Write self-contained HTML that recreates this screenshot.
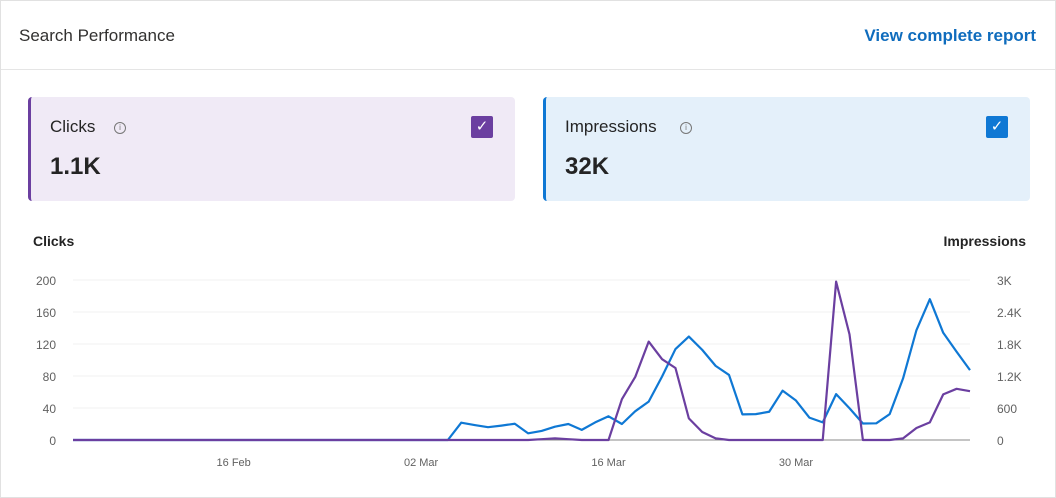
<!DOCTYPE html>
<html><head><meta charset="utf-8"><style>
body{margin:0;width:1056px;height:498px;background:#fff;font-family:"Liberation Sans",sans-serif;overflow:hidden;position:relative}
.frame{position:absolute;left:0;top:0;width:1054px;height:496px;border:1px solid #e1e1e1}
.hdr{position:absolute;left:19px;top:26px;font-size:17px;color:#323130}
.link{position:absolute;right:20px;top:26px;font-size:17px;font-weight:bold;color:#0f6cbd}
.div{position:absolute;left:1px;right:1px;top:69px;border-top:1px solid #e5e5e5}
.card{position:absolute;top:97px;height:104px;width:484px;border-radius:4px}
.card .t{position:absolute;left:19px;top:20px;font-size:17px;color:#242424}
.card .i{position:absolute;top:25px;width:10px;height:10px;border:1px solid #777;border-radius:50%;font-size:8px;line-height:10px;text-align:center;color:#777}
.card .v{position:absolute;left:19px;top:56px;font-size:24px;font-weight:bold;color:#242424}
.card .cb{position:absolute;right:22px;top:19px;width:22px;height:22px;border-radius:2px;color:#fff;font-size:15px;line-height:22px;text-align:center}
</style></head><body>
<div class="frame"></div>
<div class="hdr">Search Performance</div>
<div class="link">View complete report</div>
<div class="div"></div>
<div class="card" style="left:28px;background:#f0eaf6;border-left:3px solid #6b3fa0">
<div class="t">Clicks</div><div class="i" style="left:83px">i</div>
<div class="v">1.1K</div>
<div class="cb" style="background:#6b3fa0">✓</div></div>
<div class="card" style="left:543px;background:#e4f0fa;border-left:3px solid #0f78d4">
<div class="t">Impressions</div><div class="i" style="left:134px">i</div>
<div class="v">32K</div>
<div class="cb" style="background:#0f78d4">✓</div></div>
<svg id="ch" width="1056" height="498" style="position:absolute;left:0;top:0"></svg>
<script>
const clickTicks=[0,40,80,120,160,200];
const impTicks=["0","600","1.2K","1.8K","2.4K","3K"];
const dateLabels=["16 Feb","02 Mar","16 Mar","30 Mar"];
const dateIdx=[12,26,40,54];
const clicks=[0,0,0,0,0,0,0,0,0,0,0,0,0,0,0,0,0,0,0,0,0,0,0,0,0,0,0,0,0,0,0,0,0,0,0,1,2,1,0,0,0,51,79,123,101,90,27,10,2,0,0,0,0,0,0,0,0,198,132,0,0,0,2,15,22,57,64,61];
const impressions=[0,0,0,0,0,0,0,0,0,0,0,0,0,0,0,0,0,0,0,0,0,0,0,0,0,0,0,0,0,325,280,240,270,305,125,170,250,300,190,330,445,300,540,720,1190,1705,1940,1690,1390,1220,480,485,530,925,740,420,330,860,595,310,313,485,1155,2060,2640,2010,1655,1310];
const svg=document.getElementById('ch');const NS='http://www.w3.org/2000/svg';
const x0=73,x1=970,yb=440,yt=280;
const xs=i=>x0+(x1-x0)*i/(clicks.length-1);
const yc=v=>yb-(yb-yt)*v/200;
const yi=v=>yb-(yb-yt)*v/3000;
function mk(t,a,txt){const e=document.createElementNS(NS,t);for(const k in a)e.setAttribute(k,a[k]);if(txt!=null)e.textContent=txt;svg.appendChild(e);return e;}
let e;
e=mk('text',{x:33,y:246,'font-size':14,'font-weight':'bold',fill:'#242424'},'Clicks');


e=mk('text',{x:1026,y:246,'font-size':14,'font-weight':'bold',fill:'#242424','text-anchor':'end'},'Impressions');


clickTicks.forEach((t,k)=>{const y=yc(t);
e=mk('line',{x1:x0,x2:x1,y1:y,y2:y,stroke:k?'#f0f0f0':'#888','stroke-width':1});


e=mk('text',{x:56,y:y+5,'font-size':12,fill:'#616161','text-anchor':'end'},t);


e=mk('text',{x:997,y:y+5,'font-size':12,fill:'#616161'},impTicks[k]);

});
dateLabels.forEach((d,k)=>{e=mk('text',{x:xs(dateIdx[k]),y:466,'font-size':11,fill:'#616161','text-anchor':'middle'},d);

});
e=mk('polyline',{points:impressions.map((v,i)=>xs(i)+','+yi(v)).join(' '),fill:'none',stroke:'#0f78d4','stroke-width':2.2,'stroke-linejoin':'round'});


e=mk('polyline',{points:clicks.map((v,i)=>xs(i)+','+yc(v)).join(' '),fill:'none',stroke:'#6b3fa0','stroke-width':2.2,'stroke-linejoin':'round'});


</script>
</body></html>
